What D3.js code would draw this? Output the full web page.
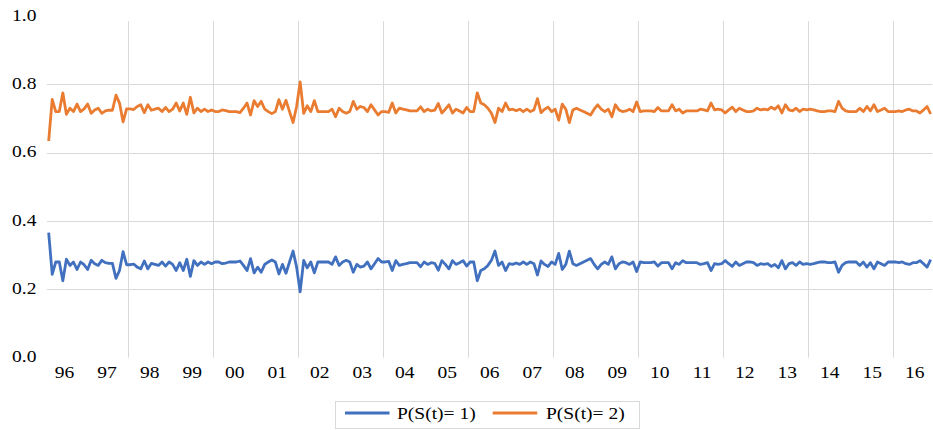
<!DOCTYPE html>
<html><head><meta charset="utf-8">
<script src="https://cdn.jsdelivr.net/npm/d3@7"></script>
<style>body{margin:0;background:#fff} svg{display:block}</style>
</head><body><svg id="c" width="933" height="430"></svg>
<script>
// ---- data ----
const startYear = 1996, startMonth = 2;            // first observation: Feb 1996 (monthly)
const yearLabels = ["96","97","98","99","00","01","02","03","04","05","06","07","08","09","10","11","12","13","14","15","16"];
const labelYears = [1996,1997,1998,1999,2000,2001,2002,2003,2004,2005,2006,2007,2008,2009,2010,2011,2012,2013,2014,2015,2016];
const gridYears = [1998,2000,2002,2004,2006,2008,2010,2012,2014,2016];
const yTicks = [0.0,0.2,0.4,0.6,0.8,1.0];
const yGrid = [0.2,0.4,0.6,0.8];
const seriesNames = ["P(S(t)= 1)", "P(S(t)= 2)"];
const seriesColors = ["#4170BF", "#E97C30"];

const p1 = [.366,.244,.280,.280,.225,.288,.270,.280,.258,.280,.272,.258,.285,.275,.270,.285,.278,.276,.276,.232,
.255,.310,.272,.272,.274,.265,.260,.283,.260,.276,.273,.270,.280,.268,.280,.273,.255,.278,.255,.288,
.238,.284,.270,.280,.273,.280,.275,.280,.280,.275,.277,.280,.280,.280,.283,.270,.255,.290,.248,.265,
.250,.273,.280,.286,.280,.245,.273,.247,.280,.312,.265,.193,.285,.263,.280,.248,.280,.280,.280,.280,
.273,.295,.270,.280,.285,.280,.250,.273,.265,.268,.280,.260,.275,.290,.280,.280,.282,.255,.284,.270,
.273,.275,.278,.278,.278,.266,.280,.273,.278,.276,.256,.284,.273,.260,.284,.273,.278,.284,.268,.280,
.280,.225,.255,.260,.270,.285,.312,.270,.280,.255,.275,.273,.277,.273,.280,.273,.280,.275,.242,.283,
.273,.267,.280,.273,.305,.258,.273,.312,.275,.270,.275,.280,.285,.290,.273,.260,.273,.280,.273,.295,
.260,.275,.280,.278,.273,.280,.252,.280,.278,.278,.278,.280,.268,.278,.278,.278,.260,.278,.273,.284,
.278,.278,.278,.278,.273,.275,.278,.255,.275,.273,.275,.284,.275,.267,.280,.270,.275,.280,.280,.278,
.270,.275,.273,.275,.267,.273,.263,.284,.260,.275,.278,.270,.280,.273,.275,.273,.275,.278,.280,.280,
.278,.278,.280,.250,.270,.278,.280,.280,.280,.270,.280,.265,.278,.260,.280,.275,.270,.280,.280,.280,
.278,.280,.275,.273,.278,.278,.284,.275,.265,.287];

const p2 = [.634,.756,.720,.720,.775,.712,.730,.720,.742,.720,.728,.742,.715,.725,.730,.715,.722,.724,.724,.768,
.745,.690,.728,.728,.726,.735,.740,.717,.740,.724,.727,.730,.720,.732,.720,.727,.745,.722,.745,.712,
.762,.716,.730,.720,.727,.720,.725,.720,.720,.725,.723,.720,.720,.720,.717,.730,.745,.710,.752,.735,
.750,.727,.720,.714,.720,.755,.727,.753,.720,.688,.735,.807,.715,.737,.720,.752,.720,.720,.720,.720,
.727,.705,.730,.720,.715,.720,.750,.727,.735,.732,.720,.740,.725,.710,.720,.720,.718,.745,.716,.730,
.727,.725,.722,.722,.722,.734,.720,.727,.722,.724,.744,.716,.727,.740,.716,.727,.722,.716,.732,.720,
.720,.775,.745,.740,.730,.715,.688,.730,.720,.745,.725,.727,.723,.727,.720,.727,.720,.725,.758,.717,
.727,.733,.720,.727,.695,.742,.727,.688,.725,.730,.725,.720,.715,.710,.727,.740,.727,.720,.727,.705,
.740,.725,.720,.722,.727,.720,.748,.720,.722,.722,.722,.720,.732,.722,.722,.722,.740,.722,.727,.716,
.722,.722,.722,.722,.727,.725,.722,.745,.725,.727,.725,.716,.725,.733,.720,.730,.725,.720,.720,.722,
.730,.725,.727,.725,.733,.727,.737,.716,.740,.725,.722,.730,.720,.727,.725,.727,.725,.722,.720,.720,
.722,.722,.720,.750,.730,.722,.720,.720,.720,.730,.720,.735,.722,.740,.720,.725,.730,.720,.720,.720,
.722,.720,.725,.727,.722,.722,.716,.725,.735,.713];

const categories = p1.map((_, i) => {
  const m = startMonth - 1 + i;
  return (startYear + Math.floor(m / 12)) + "-" + String(m % 12 + 1).padStart(2, "0");
});
const series = [p1, p2];

// ---- layout ----
const FONT = "'Liberation Serif','Times New Roman',serif";
const FS = 16, SX = 1.22;
const svg = d3.select("#c");
const plot = {left: 46.9, right: 932.4, top: 21, bottom: 357.7};
const monthIndex = (year, month) => (year - startYear) * 12 + (month - startMonth);

const x = d3.scaleLinear().domain([-0.5, categories.length - 0.5]).range([plot.left, plot.right]);
const y = d3.scaleLinear().domain([0, 1]).range([357.7, 15.9]);

// horizontal gridlines
svg.append("g").selectAll("line").data(yGrid).join("line")
  .attr("x1", plot.left).attr("x2", plot.right)
  .attr("y1", d => Math.round(y(d)) + 0.5).attr("y2", d => Math.round(y(d)) + 0.5)
  .attr("stroke", "#D9D9D9").attr("stroke-width", 1);

// vertical gridlines (year boundaries)
svg.append("g").selectAll("line").data(gridYears).join("line")
  .attr("x1", d => Math.round(x(monthIndex(d, 1) - 0.5)) + 0.5)
  .attr("x2", d => Math.round(x(monthIndex(d, 1) - 0.5)) + 0.5)
  .attr("y1", plot.top).attr("y2", plot.bottom)
  .attr("stroke", "#D9D9D9").attr("stroke-width", 1);

// y labels
svg.append("g").selectAll("text").data(yTicks).join("text")
  .attr("transform", d => `translate(36.5,${y(d) - 1}) scale(${SX},1)`)
  .attr("text-anchor", "end").attr("dy", "0.35em")
  .style("font-family", FONT).style("font-size", FS + "px").attr("fill", "#000")
  .text(d => d3.format(".1f")(d));

// x labels
svg.append("g").selectAll("text").data(labelYears).join("text")
  .attr("transform", d => `translate(${x(monthIndex(d, 1) + 5.5)},372) scale(${SX},1)`)
  .attr("text-anchor", "middle").attr("dy", "0.35em")
  .style("font-family", FONT).style("font-size", FS + "px").attr("fill", "#000")
  .text((d, i) => yearLabels[i]);

// lines
const line = d3.line().x((d, i) => x(i)).y(d => y(d));
svg.append("g").selectAll("path").data(series).join("path")
  .attr("d", d => line(d))
  .attr("fill", "none")
  .attr("stroke", (d, i) => seriesColors[i])
  .attr("stroke-width", 2.8)
  .attr("stroke-linejoin", "round");

// legend
const lg = svg.append("g");
lg.append("rect").attr("x", 335.5).attr("y", 401.5).attr("width", 304).attr("height", 27)
  .attr("fill", "#fff").attr("stroke", "#D9D9D9").attr("stroke-width", 1);
const legendItems = [{x: 345, tx: 397}, {x: 492.7, tx: 546}];
legendItems.forEach((it, i) => {
  lg.append("line").attr("x1", it.x).attr("x2", it.x + 44.5)
    .attr("y1", 413).attr("y2", 413)
    .attr("stroke", seriesColors[i]).attr("stroke-width", 2.8);
  lg.append("text")
    .attr("transform", `translate(${it.tx},413) scale(${SX},1)`)
    .attr("dy", "0.35em")
    .style("font-family", FONT).style("font-size", FS + "px").attr("fill", "#000")
    .text(seriesNames[i]);
});
</script></body></html>
